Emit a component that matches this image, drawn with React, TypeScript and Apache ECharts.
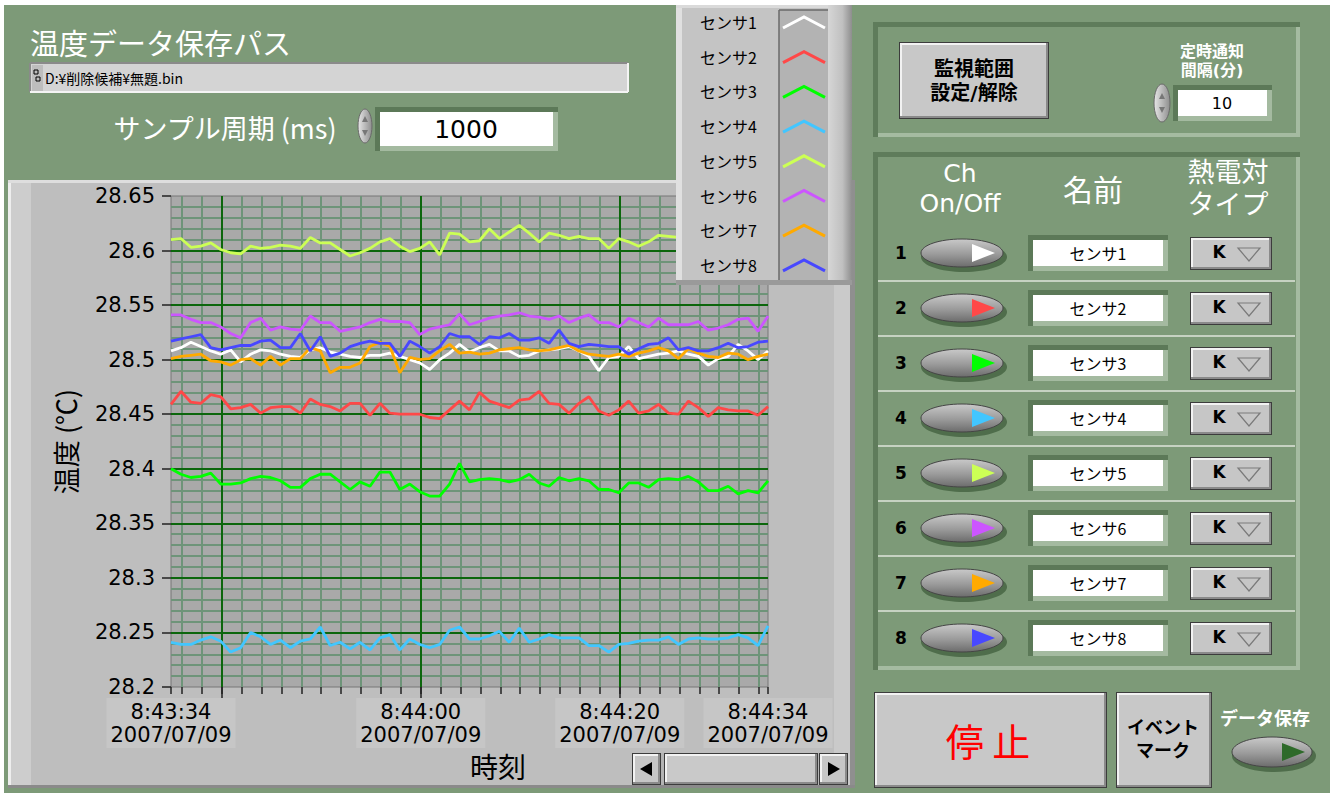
import React, { useEffect, useRef } from 'react';
import * as echarts from 'echarts';

// ---------- data ----------
const SENSOR_NAMES = ['センサ1', 'センサ2', 'センサ3', 'センサ4', 'センサ5', 'センサ6', 'センサ7', 'センサ8'];
const SENSOR_COLORS = ['#ffffff', '#ff4848', '#00ff00', '#42c6ff', '#ccff55', '#cc55ff', '#ffaa00', '#4848ff'];
const DATE_LABEL = '2007/07/09';
const BASE_HOUR = 8;
const BASE_MIN = 43;
const FIRST_SAMPLE_S = 34.9; // seconds after 8:43:00
const SAMPLE_PERIOD_S = 1;
const X_MIN = 34.9;
const X_MAX = 94.9;
const X_LABEL_SECONDS = [34.9, 60, 80, 94.9];
const X_MAJOR = [40, 60, 80];
const Y_MIN = 28.2;
const Y_MAX = 28.65;
const Y_STEP = 0.05;

const S1 = [28.508, 28.511, 28.516, 28.512, 28.508, 28.505, 28.509, 28.498, 28.505, 28.509, 28.508, 28.505, 28.503, 28.502, 28.509, 28.511, 28.507, 28.505, 28.503, 28.502, 28.504, 28.504, 28.506, 28.503, 28.500, 28.497, 28.491, 28.500, 28.506, 28.514, 28.507,
  28.511, 28.514, 28.508, 28.508, 28.503, 28.504, 28.508, 28.509, 28.510, 28.512, 28.508, 28.503, 28.490, 28.502, 28.503, 28.512, 28.501, 28.503, 28.505, 28.506, 28.508, 28.505, 28.503, 28.495, 28.501, 28.503, 28.514, 28.508, 28.500, 28.508];
const S2 = [28.459, 28.471, 28.461, 28.460, 28.468, 28.466, 28.455, 28.456, 28.459, 28.451, 28.456, 28.457, 28.457, 28.451, 28.464, 28.459, 28.457, 28.453, 28.460, 28.460, 28.449, 28.460, 28.451, 28.450, 28.450, 28.450, 28.447, 28.446, 28.454, 28.462, 28.454,
  28.470, 28.462, 28.459, 28.456, 28.463, 28.464, 28.471, 28.460, 28.459, 28.451, 28.460, 28.466, 28.453, 28.449, 28.454, 28.462, 28.451, 28.453, 28.459, 28.451, 28.450, 28.462, 28.456, 28.448, 28.456, 28.454, 28.453, 28.453, 28.449, 28.457];
const S3 = [28.400, 28.395, 28.392, 28.393, 28.396, 28.386, 28.386, 28.387, 28.391, 28.393, 28.392, 28.389, 28.383, 28.383, 28.391, 28.395, 28.395, 28.388, 28.381, 28.388, 28.384, 28.397, 28.397, 28.381, 28.386, 28.379, 28.375, 28.375, 28.386, 28.405, 28.388,
  28.390, 28.391, 28.390, 28.388, 28.390, 28.395, 28.387, 28.384, 28.392, 28.389, 28.391, 28.389, 28.381, 28.381, 28.378, 28.387, 28.387, 28.383, 28.390, 28.391, 28.390, 28.393, 28.388, 28.380, 28.380, 28.384, 28.377, 28.380, 28.378, 28.389];
const S4 = [28.241, 28.239, 28.239, 28.243, 28.246, 28.242, 28.232, 28.236, 28.250, 28.246, 28.239, 28.243, 28.236, 28.242, 28.244, 28.255, 28.238, 28.241, 28.235, 28.241, 28.234, 28.245, 28.248, 28.234, 28.244, 28.239, 28.236, 28.239, 28.252, 28.255, 28.244,
  28.244, 28.247, 28.251, 28.241, 28.254, 28.241, 28.244, 28.248, 28.245, 28.245, 28.245, 28.238, 28.238, 28.232, 28.239, 28.240, 28.242, 28.243, 28.243, 28.246, 28.239, 28.244, 28.245, 28.244, 28.244, 28.245, 28.248, 28.245, 28.238, 28.256];
const S5 = [28.610, 28.611, 28.603, 28.604, 28.607, 28.601, 28.598, 28.597, 28.604, 28.602, 28.603, 28.605, 28.604, 28.602, 28.612, 28.607, 28.607, 28.601, 28.595, 28.598, 28.602, 28.608, 28.611, 28.604, 28.599, 28.602, 28.608, 28.596, 28.616, 28.615, 28.608,
  28.609, 28.620, 28.611, 28.617, 28.623, 28.616, 28.608, 28.616, 28.614, 28.611, 28.613, 28.611, 28.611, 28.602, 28.611, 28.608, 28.604, 28.608, 28.614, 28.613, 28.612, 28.610, 28.613, 28.611, 28.609, 28.612, 28.610, 28.611, 28.613, 28.610];
const S6 = [28.541, 28.541, 28.537, 28.534, 28.534, 28.530, 28.524, 28.520, 28.534, 28.538, 28.527, 28.530, 28.528, 28.527, 28.540, 28.534, 28.534, 28.526, 28.528, 28.530, 28.534, 28.537, 28.535, 28.535, 28.534, 28.523, 28.528, 28.530, 28.532, 28.542, 28.532,
  28.535, 28.538, 28.540, 28.541, 28.543, 28.540, 28.539, 28.537, 28.540, 28.534, 28.538, 28.541, 28.534, 28.534, 28.530, 28.538, 28.534, 28.530, 28.538, 28.532, 28.532, 28.532, 28.535, 28.527, 28.529, 28.532, 28.537, 28.538, 28.526, 28.540];
const S7 = [28.501, 28.503, 28.504, 28.505, 28.499, 28.498, 28.495, 28.500, 28.501, 28.495, 28.503, 28.495, 28.501, 28.501, 28.511, 28.508, 28.488, 28.493, 28.493, 28.497, 28.512, 28.516, 28.512, 28.488, 28.502, 28.500, 28.501, 28.508, 28.514, 28.506, 28.507,
  28.505, 28.506, 28.509, 28.510, 28.511, 28.509, 28.508, 28.509, 28.511, 28.513, 28.508, 28.505, 28.504, 28.503, 28.505, 28.503, 28.506, 28.508, 28.511, 28.508, 28.501, 28.510, 28.506, 28.503, 28.502, 28.506, 28.505, 28.500, 28.503, 28.505];
const S8 = [28.517, 28.519, 28.521, 28.523, 28.511, 28.509, 28.511, 28.513, 28.513, 28.517, 28.518, 28.511, 28.511, 28.524, 28.508, 28.521, 28.503, 28.506, 28.512, 28.515, 28.517, 28.515, 28.515, 28.503, 28.517, 28.512, 28.506, 28.512, 28.524, 28.521, 28.521,
  28.514, 28.521, 28.520, 28.524, 28.518, 28.518, 28.520, 28.515, 28.527, 28.515, 28.512, 28.514, 28.513, 28.512, 28.512, 28.505, 28.510, 28.514, 28.515, 28.520, 28.509, 28.511, 28.508, 28.508, 28.511, 28.515, 28.511, 28.512, 28.516, 28.517];
const SERIES_VALUES = [S1, S2, S3, S4, S5, S6, S7, S8];

// ---------- styling helpers ----------
const JP = '"Noto Sans CJK JP", sans-serif';
// compact-metric stack for stacked two-line labels (CJK glyphs fall back to Noto)
const JP2 = '"DejaVu Sans", "Noto Sans CJK JP", sans-serif';
const NUM = '"DejaVu Sans", sans-serif';
const PANEL_GREEN = '#7d9a78';

const pad2 = (n: number) => (n < 10 ? '0' + n : String(n));
function timeLabel(sec: number) {
  const s = Math.floor(sec + 1e-6);
  const totalMin = BASE_MIN + Math.floor(s / 60);
  const h = BASE_HOUR + Math.floor(totalMin / 60);
  return `${h}:${pad2(totalMin % 60)}:${pad2(s % 60)}\n${DATE_LABEL}`;
}

function R(x: number, y: number, w: number, h: number, fill: any, z = -10, extra: any = {}) {
  return { type: 'rect', shape: { x, y, width: w, height: h }, style: { fill, ...extra }, z, silent: true };
}
function L(x1: number, y1: number, x2: number, y2: number, stroke: string, lw = 1, z = -9) {
  return { type: 'line', shape: { x1, y1, x2, y2 }, style: { stroke, lineWidth: lw }, z, silent: true };
}
function T(x: number, y: number, text: string, size: number, fill: string, opt: any = {}) {
  const align = opt.align || 'center';
  const v = opt.v || 'middle';
  const style: any = {
    text, fontSize: size, fill, fontFamily: opt.font || JP, fontWeight: opt.weight || 'normal',
    align, textAlign: align, verticalAlign: v, textVerticalAlign: v,
  };
  if (opt.lh) style.lineHeight = opt.lh;
  return { type: 'text', x, y, z: opt.z ?? -5, silent: true, style };
}
function raised(x: number, y: number, w: number, h: number, face = '#c8c8c8', z = -8) {
  return [
    R(x, y, w, h, '#3c3c3c', z),
    R(x + 1, y + 1, w - 2, h - 2, '#8a8a8a', z),
    R(x + 1, y + 1, w - 4, h - 4, '#f2f2f2', z),
    R(x + 3, y + 3, w - 6, h - 6, face, z),
  ];
}
function recessed(x: number, y: number, w: number, h: number, z = -8) {
  return [
    R(x - 5, y - 5, w + 10, h + 10, '#5c7958', z),
    R(x, y, w + 5, h + 5, '#a4baa0', z),
    R(x, y, w, h, '#ffffff', z),
  ];
}
function frame(x: number, y: number, w: number, h: number) {
  return [
    R(x, y, w, h, '#5f7c5b', -12),
    R(x + 5, y + 5, w - 5, h - 5, '#a5bba1', -12),
    R(x + 5, y + 5, w - 9, h - 9, PANEL_GREEN, -12),
  ];
}
function toggle(cx: number, cy: number, color: string, rx = 41, ry = 14) {
  const grad = new echarts.graphic.LinearGradient(0, 0, 0, 1, [
    { offset: 0, color: '#c9c9c9' },
    { offset: 0.55, color: '#9a9a9a' },
    { offset: 1, color: '#6c6c6c' },
  ]);
  return [
    { type: 'ellipse', shape: { cx: cx + 2, cy: cy + 4, rx: rx + 2, ry: ry + 1 }, style: { fill: '#4f6d4b' }, z: -7, silent: true },
    { type: 'ellipse', shape: { cx, cy, rx, ry }, style: { fill: grad, stroke: '#454545', lineWidth: 1 }, z: -6, silent: true },
    { type: 'polygon', shape: { points: [[cx + 10, cy - 9], [cx + 10, cy + 9], [cx + 33, cy]] }, style: { fill: color }, z: -5, silent: true },
  ];
}
function spinner(cx: number, cy: number, rx: number, ry: number) {
  const grad = new echarts.graphic.LinearGradient(0, 0, 1, 0, [
    { offset: 0, color: '#e6e6e6' },
    { offset: 1, color: '#8e8e8e' },
  ]);
  return [
    { type: 'ellipse', shape: { cx, cy, rx, ry }, style: { fill: grad, stroke: '#6a6a6a', lineWidth: 1 }, z: -6, silent: true },
    { type: 'polygon', shape: { points: [[cx - 3, cy - 4], [cx + 3, cy - 4], [cx, cy - 10]] }, style: { fill: '#777' }, z: -5, silent: true },
    { type: 'polygon', shape: { points: [[cx - 3, cy + 4], [cx + 3, cy + 4], [cx, cy + 10]] }, style: { fill: '#777' }, z: -5, silent: true },
  ];
}

function buildGraphics() {
  const els: any[] = [];
  els.push(R(4, 5, 1326, 788, PANEL_GREEN, -20));

  // top-left controls
  els.push(T(30, 42, '温度データ保存パス', 29, '#ffffff', { align: 'left' }));
  els.push(R(30, 63, 598, 29, '#d4d4d4'));
  els.push(L(30, 63, 628, 63, '#8a8a8a', 2), L(30, 63, 30, 92, '#8a8a8a', 2), L(30, 92, 628, 92, '#f4f4f4', 2), L(628, 63, 628, 92, '#f4f4f4', 2));
  els.push(R(32, 65, 11, 26, '#bdbdbd', -9));
  els.push({ type: 'rect', shape: { x: 34, y: 70, width: 4, height: 4 }, style: { fill: 'none', stroke: '#000', lineWidth: 1 }, z: -8, silent: true });
  els.push({ type: 'rect', shape: { x: 36, y: 77, width: 4, height: 4 }, style: { fill: 'none', stroke: '#000', lineWidth: 1 }, z: -8, silent: true });
  els.push(T(45, 78, 'D:¥削除候補¥無題.bin', 14, '#000000', { align: 'left' }));
  els.push(T(225, 127, 'サンプル周期 (ms)', 27, '#ffffff'));
  els.push(...spinner(365, 126, 7, 17));
  els.push(...recessed(380, 112, 173, 34));
  els.push(T(466, 129, '1000', 25, '#000000', { font: NUM, z: -4 }));

  // graph panel
  els.push(R(8, 180, 847, 608, '#bebebe', -15));
  els.push(R(8, 180, 3, 608, '#eeeeee', -14));
  els.push(R(11, 180, 20, 606, '#cdcdcd', -14));
  els.push(R(8, 180, 847, 3, '#dedede', -14));
  els.push(R(834, 180, 16, 606, '#cacaca', -14));
  els.push(R(850, 180, 5, 608, '#8f8f8f', -14));
  els.push(R(8, 785, 847, 3, '#8a8a8a', -14));
  els.push(T(498, 766, '時刻', 28, '#000000'));

  // scrollbar
  els.push(R(632, 753, 216, 32, '#b4b4b4', -13));
  els.push(...raised(632, 753, 29, 32, '#c6c6c6', -12));
  els.push(...raised(664, 753, 154, 32, '#c9c9c9', -12));
  els.push(...raised(819, 753, 29, 32, '#c6c6c6', -12));
  els.push({ type: 'polygon', shape: { points: [[640, 769], [652, 762], [652, 776]] }, style: { fill: '#000' }, z: -5, silent: true });
  els.push({ type: 'polygon', shape: { points: [[840, 769], [828, 762], [828, 776]] }, style: { fill: '#000' }, z: -5, silent: true });

  // legend (floats above the plot)
  const LZ = 50;
  els.push(R(676, 5, 176, 280, '#c4c4c4', LZ));
  els.push(R(676, 5, 6, 280, '#e0e0e0', LZ));
  els.push(R(676, 5, 176, 3, '#dadada', LZ));
  els.push(R(779, 10, 49, 270, '#b3b3b3', LZ));
  els.push(L(779, 10, 779, 280, '#6a6a6a', 1.5, LZ + 1), L(779, 10, 828, 10, '#6a6a6a', 1.5, LZ + 1));
  els.push(R(828, 5, 24, 280, new echarts.graphic.LinearGradient(0, 0, 1, 0, [
    { offset: 0, color: '#d6d6d6' }, { offset: 0.6, color: '#c0c0c0' }, { offset: 1, color: '#8e8e8e' },
  ]), LZ));
  els.push(R(676, 280, 176, 5, '#9a9a9a', LZ));
  SENSOR_NAMES.forEach((nm, i) => {
    const y = 22 + 34.7 * i;
    els.push(T(700, y, nm, 16, '#000000', { align: 'left', z: LZ + 2 }));
    els.push({
      type: 'polyline', shape: { points: [[783, y + 6], [804, y - 5], [825, y + 6]] },
      style: { stroke: SENSOR_COLORS[i], lineWidth: 3, fill: 'none' }, z: LZ + 2, silent: true,
    });
  });

  // right panel: top frame
  els.push(...frame(873, 22, 427, 115));
  els.push(...raised(899, 42, 150, 77));
  els.push(T(974, 81, '監視範囲\n設定/解除', 20, '#000000', { weight: 'bold', lh: 24, font: JP2 }));
  els.push(T(1212, 61, '定時通知\n間隔(分)', 16, '#ffffff', { weight: 'bold', lh: 19, font: JP2 }));
  els.push(...spinner(1162, 103, 8, 19));
  els.push(...recessed(1178, 90, 89, 26));
  els.push(T(1222, 103, '10', 16, '#000000', { font: NUM, z: -4 }));

  // right panel: channel table
  els.push(...frame(873, 152, 427, 518));
  els.push(T(960, 188, 'Ch\nOn/Off', 25, '#ffffff', { font: NUM, lh: 30 }));
  els.push(T(1093, 188, '名前', 30, '#ffffff'));
  els.push(T(1228, 188, '熱電対\nタイプ', 27, '#ffffff', { lh: 32, font: JP2 }));
  SENSOR_NAMES.forEach((nm, r) => {
    const cy = 253 + 55 * r;
    els.push(T(901, cy, String(r + 1), 17, '#000000', { font: NUM, weight: 'bold' }));
    els.push(...toggle(962, cy, SENSOR_COLORS[r]));
    els.push(...recessed(1033, cy - 13, 130, 26));
    els.push(T(1098, cy, nm, 16, '#000000', { z: -4 }));
    els.push(...raised(1190, cy - 16, 82, 33, '#c6c6c6'));
    els.push(T(1219, cy - 1, 'K', 17, '#000000', { font: NUM, weight: 'bold', z: -4 }));
    els.push({
      type: 'polygon', shape: { points: [[1238, cy - 5], [1260, cy - 5], [1249, cy + 8]] },
      style: { fill: 'none', stroke: '#7a7a7a', lineWidth: 1.2 }, z: -4, silent: true,
    });
    if (r < 7) {
      els.push(L(878, cy + 28, 1295, cy + 28, '#c6d2c2', 2, -9));
    }
  });

  // bottom buttons
  els.push(...raised(874, 692, 233, 96));
  els.push(T(988, 739, '停 止', 38, '#ff0000'));
  els.push(...raised(1116, 692, 96, 96));
  els.push(T(1163, 739, 'イベント\nマーク', 18, '#000000', { weight: 'bold', lh: 23, font: JP2 }));
  els.push(T(1265, 717, 'データ保存', 18, '#ffffff', { weight: 'bold' }));
  els.push(...toggle(1272, 752, '#2e6a2a', 40, 15));
  return els;
}

function buildGridLines() {
  const minorStyle = { color: '#6e9479', width: 2, type: 'solid' };
  const majorStyle = { color: '#0c660c', width: 2, type: 'solid' };
  const data: any[] = [];
  const nY = Math.round((Y_MAX - Y_MIN) / 0.01);
  for (let k = 1; k < nY; k++) {
    if (k % 5 !== 0) data.push({ yAxis: +(Y_MIN + k * 0.01).toFixed(2), lineStyle: minorStyle });
  }
  for (let s = 36; s < X_MAX; s += 2) {
    if (X_MAJOR.indexOf(s) < 0) data.push({ xAxis: s, lineStyle: minorStyle });
  }
  for (let k = 5; k < nY; k += 5) data.push({ yAxis: +(Y_MIN + k * 0.01).toFixed(2), lineStyle: majorStyle });
  X_MAJOR.forEach((s) => data.push({ xAxis: s, lineStyle: majorStyle }));
  return data;
}

function minorTickValues() {
  const v: number[] = [X_MIN];
  for (let s = 36; s < X_MAX; s += 2) v.push(s);
  v.push(X_MAX);
  return v;
}

export default function App() {
  const ref = useRef<HTMLDivElement>(null);
  useEffect(() => {
    if (!ref.current) return;
    const chart = echarts.init(ref.current, undefined, { renderer: 'svg' });
    const lineSeries = SERIES_VALUES.map((vals, k) => ({
      type: 'line',
      name: SENSOR_NAMES[k],
      data: vals.map((v, i) => [FIRST_SAMPLE_S + i * SAMPLE_PERIOD_S, v]),
      showSymbol: false,
      symbol: 'none',
      lineStyle: { color: SENSOR_COLORS[k], width: 2.8 },
      itemStyle: { color: SENSOR_COLORS[k] },
      z: 3,
      silent: true,
    }));
    const option: any = {
      animation: false,
      backgroundColor: '#ffffff',
      grid: {
        left: 171, top: 196, width: 597, height: 491,
        show: true, backgroundColor: '#a9a9a9', borderColor: '#777777', borderWidth: 1,
      },
      xAxis: [
        {
          type: 'value', min: X_MIN, max: X_MAX, position: 'bottom',
          axisLine: { show: false },
          splitLine: { show: false },
          axisTick: { show: true, customValues: minorTickValues(), length: 7, lineStyle: { color: '#222', width: 1.5 } },
          axisLabel: {
            customValues: X_LABEL_SECONDS,
            formatter: (v: number) => timeLabel(v),
            margin: 11, fontSize: 21, lineHeight: 23, color: '#000', fontFamily: NUM,
            backgroundColor: '#c6c6c6', padding: [2, 4, 2, 4],
          },
        },
        {
          type: 'value', min: X_MIN, max: X_MAX, position: 'bottom',
          axisLine: { show: false },
          splitLine: { show: false },
          axisTick: { show: true, customValues: X_MAJOR, length: 11, lineStyle: { color: '#222', width: 1.5 } },
          axisLabel: { show: false },
        },
      ],
      yAxis: {
        type: 'value', min: Y_MIN, max: Y_MAX, interval: Y_STEP,
        name: '温度 (℃)', nameLocation: 'middle', nameGap: 92,
        nameTextStyle: { fontSize: 27, color: '#000', fontFamily: JP },
        axisLine: { show: false },
        splitLine: { show: false },
        axisTick: { show: true, length: 9, lineStyle: { color: '#222', width: 1.5 } },
        axisLabel: {
          margin: 16, fontSize: 21, color: '#000', fontFamily: NUM,
          formatter: (v: number) => String(+v.toFixed(2)),
        },
      },
      series: [
        {
          type: 'line', data: [], silent: true, z: 1,
          markLine: {
            z: 1, silent: true, symbol: ['none', 'none'], label: { show: false },
            emphasis: { disabled: true },
            data: buildGridLines(),
          },
        },
        ...lineSeries,
      ],
      graphic: { elements: buildGraphics() },
    };
    chart.setOption(option);
    return () => chart.dispose();
  }, []);
  return (
    <div
      ref={ref}
      style={{ position: 'absolute', left: 0, top: 0, width: 1335, height: 793 }}
    />
  );
}
